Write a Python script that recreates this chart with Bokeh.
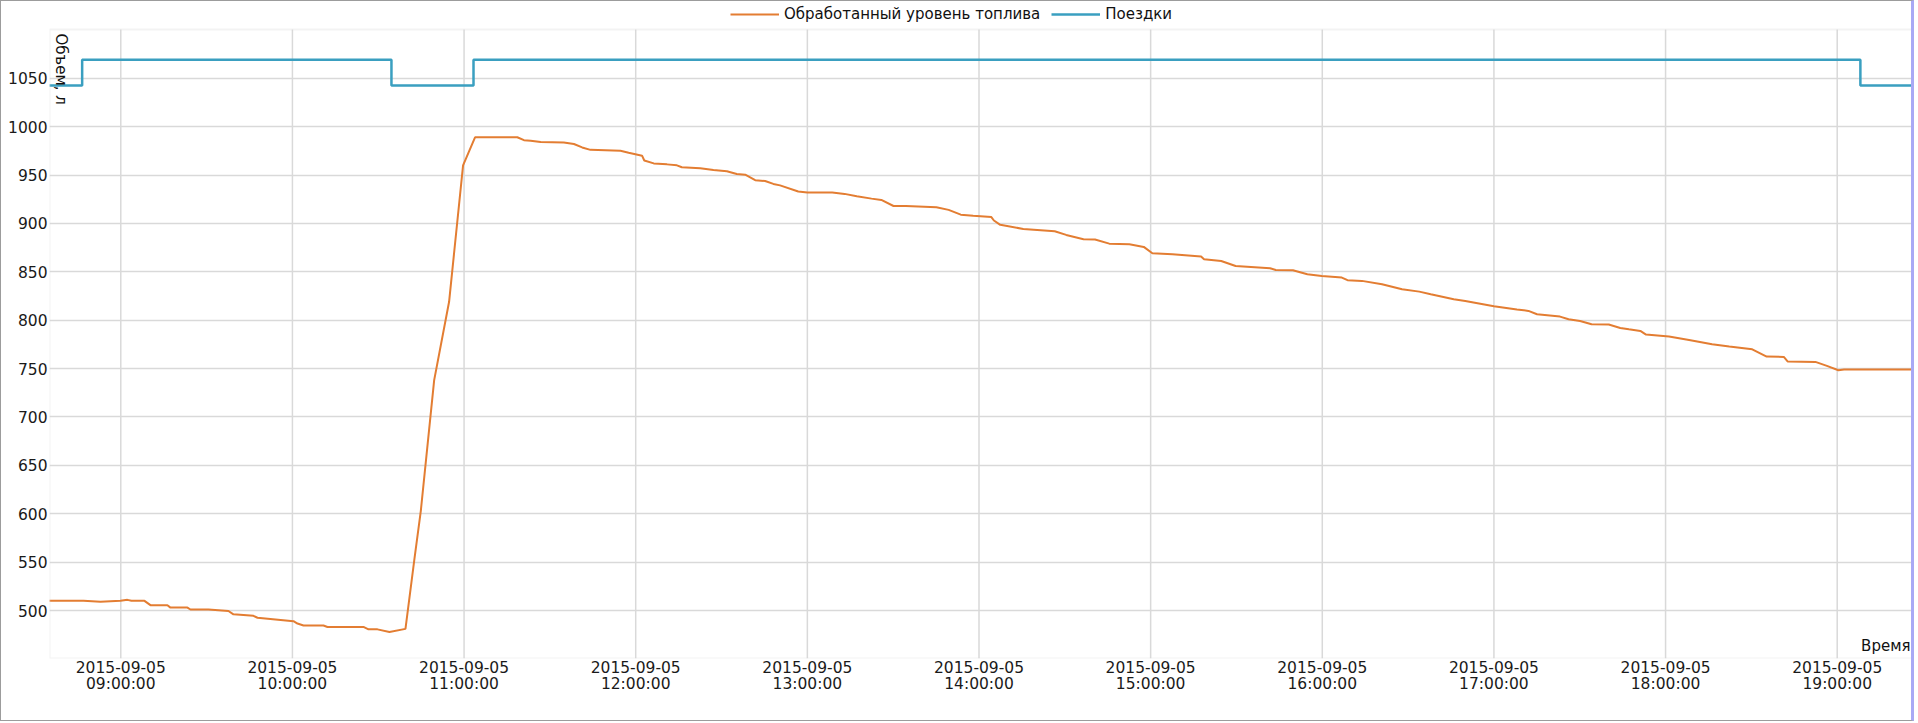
import pandas as pd
from math import pi
from bokeh.plotting import figure
from bokeh.models import (Legend, LegendItem, FixedTicker, DatetimeTickFormatter,
                          Label, Range1d, BoxAnnotation)
from bokeh.embed import file_html
from bokeh.resources import INLINE

DAY = "2015-09-05 "

# --- data -------------------------------------------------------------
fuel_time = [
    "08:35:00", "08:46:58", "08:52:54", "08:59:54", "09:02:20", "09:03:44",
    "09:08:17", "09:10:22", "09:16:18", "09:17:22", "09:23:18", "09:24:21",
    "09:30:39", "09:37:38", "09:39:23", "09:46:23", "09:47:47", "10:00:22",
    "10:01:46", "10:03:52", "10:10:51", "10:12:15", "10:24:50", "10:26:35",
    "10:29:44", "10:33:55", "10:39:31", "10:42:33", "10:44:53", "10:49:33",
    "10:54:46", "10:59:39", "11:03:50", "11:18:36", "11:20:56", "11:23:17",
    "11:26:46", "11:34:52", "11:38:24", "11:41:17", "11:44:10", "11:54:40",
    "11:57:32", "12:02:13", "12:03:00", "12:06:18", "12:10:55", "12:14:24",
    "12:16:08", "12:22:34", "12:27:11", "12:31:52", "12:35:20", "12:38:17",
    "12:41:46", "12:45:14", "12:48:07", "12:50:28", "12:56:49", "13:00:00",
    "13:08:42", "13:13:01", "13:17:17", "13:22:26", "13:25:52", "13:30:07",
    "13:34:26", "13:45:07", "13:49:23", "13:53:38", "13:57:58", "14:04:19",
    "14:05:13", "14:07:26", "14:15:29", "14:26:28", "14:30:29", "14:36:32",
    "14:40:34", "14:45:32", "14:52:34", "14:57:36", "15:00:36", "15:07:37",
    "15:17:38", "15:18:40", "15:24:40", "15:29:42", "15:41:46", "15:43:44",
    "15:49:44", "15:54:47", "15:59:49", "16:06:50", "16:08:49", "16:13:52",
    "16:20:53", "16:27:54", "16:33:54", "16:37:55", "16:45:58", "16:49:59",
    "17:00:00", "17:08:02", "17:12:04", "17:15:04", "17:23:06", "17:26:06",
    "17:30:07", "17:34:08", "17:40:08", "17:44:10", "17:47:10", "17:51:11",
    "17:53:10", "18:01:12", "18:08:13", "18:16:16", "18:22:16", "18:30:18",
    "18:35:20", "18:41:20", "18:42:43", "18:52:23", "18:56:24", "19:00:25",
    "19:02:24", "19:30:00",
]
fuel_level = [
    510.0, 510.0, 509.0, 510.0, 511.0, 510.0,
    510.0, 505.5, 505.5, 503.0, 503.0, 501.0,
    501.0, 499.5, 496.0, 494.5, 492.5, 489.0,
    486.5, 484.5, 484.5, 483.0, 483.0, 480.5,
    480.5, 477.8, 481.0, 551.0, 603.0, 738.0,
    819.0, 960.0, 989.0, 989.0, 986.0, 985.5,
    984.0, 983.5, 982.0, 978.5, 976.0, 975.0,
    973.0, 970.0, 965.0, 962.0, 961.0, 960.0,
    958.0, 957.0, 955.3, 953.8, 951.0, 950.3,
    944.6, 943.8, 940.8, 939.3, 933.0, 932.0,
    932.0, 930.5, 928.0, 925.6, 924.3, 918.0,
    918.0, 916.7, 914.0, 909.0, 907.8, 906.5,
    903.0, 898.5, 894.3, 891.9, 888.1, 883.6,
    883.3, 879.1, 878.4, 875.7, 869.1, 868.1,
    865.7, 862.9, 861.2, 856.0, 853.6, 851.9,
    851.6, 847.5, 845.7, 844.0, 841.3, 840.6,
    837.1, 831.9, 829.5, 826.8, 821.6, 819.9,
    814.4, 811.0, 809.6, 806.1, 803.7, 801.0,
    799.2, 795.8, 795.5, 792.0, 790.6, 788.9,
    785.1, 783.1, 779.6, 775.1, 772.7, 769.9,
    762.4, 762.0, 757.2, 756.9, 752.8, 748.3,
    749.0, 749.0,
]
trip_time = ["08:35:00", "08:46:30", "10:34:37", "11:03:18", "19:08:06", "19:30:00"]
trip_level = [1042.5, 1069.0, 1042.5, 1069.0, 1042.5, 1042.5]

hour_ticks = ["09:00:00", "10:00:00", "11:00:00", "12:00:00", "13:00:00", "14:00:00",
              "15:00:00", "16:00:00", "17:00:00", "18:00:00", "19:00:00"]
y_ticks = [500, 550, 600, 650, 700, 750, 800, 850, 900, 950, 1000, 1050]

series_names = ["Обработанный уровень топлива", "Поездки"]
x_title = "Время"
y_title = "Объем, л"

# visible plot area (time span and value span)
x_view = ["08:35:05", "19:26:40"]
y_view = [450.4, 1100.3]
y_canvas_top = 1129.3  # value at the very top of the drawing surface (legend strip)

# --- helpers ----------------------------------------------------------
def to_dt(lst):
    return pd.to_datetime([DAY + t for t in lst])

def to_ms(lst):
    return [pd.Timestamp(DAY + t).timestamp() * 1000.0 for t in lst]

FONT = "DejaVu Sans"
ORANGE = "#e37d32"
BLUE = "#3a9fc0"
GRID = "#d9d9d9"

xs_ms, xe_ms = to_ms(x_view)
hour_ms = to_ms(hour_ticks)

W, H = 1914, 721
B_LEFT, B_RIGHT, B_TOP, B_BOTTOM = 48, 2, 0, 64

p = figure(width=W, height=H, x_axis_type="datetime",
           x_range=Range1d(xs_ms, xe_ms), y_range=Range1d(y_view[0], y_canvas_top),
           output_backend="svg", toolbar_location=None,
           min_border_left=B_LEFT, min_border_right=B_RIGHT, min_border_top=B_TOP,
           min_border_bottom=B_BOTTOM,
           styles={"border": "1px solid #9c9c9c", "border-right": "3px solid #a9a9f5"})
p.background_fill_color = "white"
p.border_fill_color = "white"
p.outline_line_color = None

# vertical grid lines limited to the plot area
p.xgrid.visible = False
p.segment(x0=hour_ms, y0=[y_view[0]] * len(hour_ms), x1=hour_ms,
          y1=[y_view[1]] * len(hour_ms), line_color=GRID, line_width=1.5)
p.ygrid.grid_line_color = GRID
p.ygrid.grid_line_width = 1.5

# plot-area border
p.add_layout(BoxAnnotation(left=xs_ms, right=xe_ms, bottom=y_view[0], top=y_view[1],
                           fill_color=None, fill_alpha=0, line_color="#d6d6d6",
                           line_width=2))

r_fuel = p.line(to_dt(fuel_time), fuel_level, line_color=ORANGE, line_width=2)
r_trip = p.step(to_dt(trip_time), trip_level, mode="after", line_color=BLUE, line_width=2.5)

p.xaxis.ticker = FixedTicker(ticks=hour_ms)
fmt = "%Y-%m-%d\n%H:%M:%S"
p.xaxis.formatter = DatetimeTickFormatter(
    microseconds=fmt, milliseconds=fmt, seconds=fmt, minsec=fmt, minutes=fmt,
    hourmin=fmt, hours=fmt, days=fmt, months=fmt, years=fmt)
p.yaxis.ticker = FixedTicker(ticks=y_ticks)

for ax in (p.xaxis[0], p.yaxis[0]):
    ax.axis_line_color = None
    ax.major_tick_line_color = None
    ax.minor_tick_line_color = None
    ax.major_tick_out = 0
    ax.major_tick_in = 0
    ax.major_label_text_font = FONT
    ax.major_label_text_font_size = "15.5px"
    ax.major_label_text_color = "#1a1a1a"
p.xaxis.major_label_text_line_height = 0.9
p.xaxis.major_label_standoff = 0
p.yaxis.major_label_standoff = 2

frame_h = H - B_TOP - B_BOTTOM
legend = Legend(items=[LegendItem(label=series_names[0], renderers=[r_fuel]),
                       LegendItem(label=series_names[1], renderers=[r_trip])],
                orientation="horizontal", location=(681, frame_h - 22),
                glyph_width=49, glyph_height=16, label_height=16, label_standoff=5,
                spacing=11, padding=0, margin=0,
                border_line_color=None, background_fill_alpha=0,
                label_text_font=FONT, label_text_font_size="15px",
                label_text_color="#111111")
p.add_layout(legend, "center")

p.add_layout(Label(x=xs_ms, y=y_view[1], text=y_title, angle=-pi / 2,
                   text_align="left", text_baseline="bottom", x_offset=2, y_offset=-4,
                   text_font=FONT, text_font_size="15px", text_color="#111111"))
p.add_layout(Label(x=xe_ms, y=y_view[0], text=x_title,
                   text_align="right", text_baseline="bottom", x_offset=-3, y_offset=4,
                   text_font=FONT, text_font_size="15px", text_color="#111111"))

with open("out.html", "w") as f:
    f.write(file_html(p, INLINE))
